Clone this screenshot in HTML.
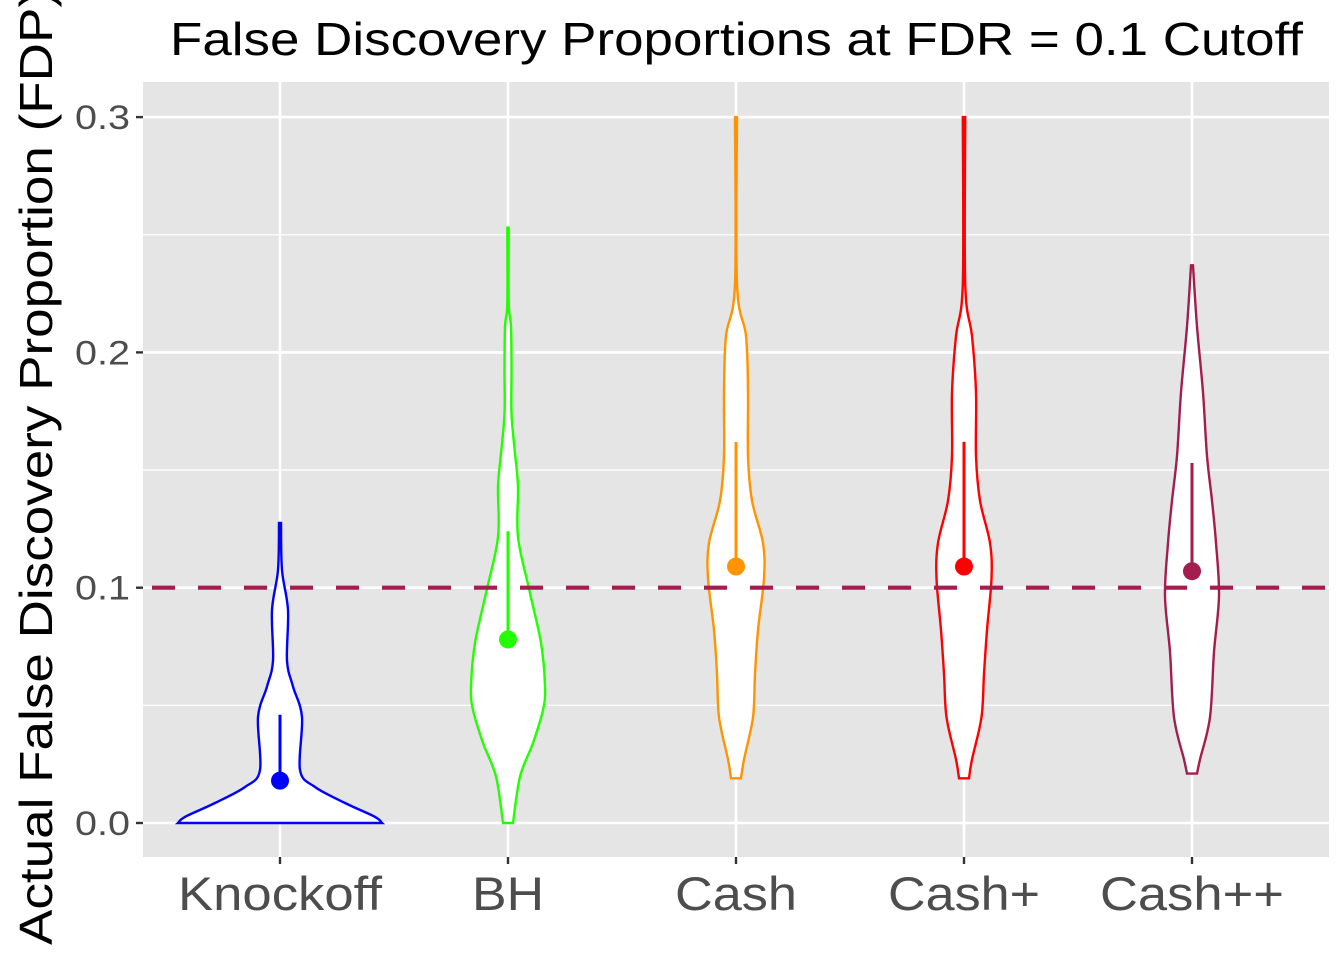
<!DOCTYPE html>
<html><head><meta charset="utf-8"><style>
html,body{margin:0;padding:0;background:#fff;}
svg text{font-family:"Liberation Sans",sans-serif;}
</style></head><body>
<svg id="chart" width="1344" height="960" viewBox="0 0 1344 960" xmlns="http://www.w3.org/2000/svg">
<rect x="0" y="0" width="1344" height="960" fill="#fff"/>
<rect x="143" y="82" width="1186" height="775" fill="#e5e5e5"/>
<g id="grid"></g>
<g id="violins"></g>
<g id="axes"></g>
<text x="170" y="55" font-size="46" textLength="1133" lengthAdjust="spacingAndGlyphs" fill="#000">False Discovery Proportions at FDR = 0.1 Cutoff</text>
<text transform="translate(52,945) rotate(-90)" font-size="46" textLength="955" lengthAdjust="spacingAndGlyphs" fill="#000">Actual False Discovery Proportion (FDP)</text>
</svg>
<script>
const categories = ["Knockoff","BH","Cash","Cash+","Cash++"];
const colors = ["#0000ff","#22ff00","#ff9400","#ff0000","#a31d4f"];
const yTicks = [0,0.1,0.2,0.3];
const yTickLabels = ["0.0","0.1","0.2","0.3"];
const yMinor = [0.05,0.15,0.25];
const cutoff = 0.1;
const points = [0.018,0.078,0.109,0.109,0.107];
const medianTops = [0.046,0.124,0.162,0.162,0.153];
const knockoffProfile = [[0,102],[0.0026,95],[0.0085,65],[0.0153,35],[0.0225,20],[0.045,22],[0.058,13],[0.069,7],[0.0905,8],[0.1075,2],[0.1275,1]];
const bhProfile = [[0,5],[0.0197,12],[0.034,25],[0.048,35],[0.058,37],[0.0765,33],[0.0977,22],[0.1215,10],[0.143,10],[0.157,7],[0.174,3.5],[0.1925,3.5],[0.211,3],[0.221,0.7],[0.253,0.7]];
const cashProfile = [[0.019,5],[0.027,8],[0.045,17],[0.0634,19],[0.082,22],[0.104,28],[0.119,27],[0.137,16],[0.156,12],[0.183,12],[0.207,10],[0.229,1],[0.3,1]];
const cashPlusProfile = [[0.019,5],[0.027,8],[0.045,17.5],[0.0634,20],[0.082,23],[0.104,27.5],[0.119,26],[0.137,16],[0.156,12],[0.183,12],[0.207,8],[0.229,1.2],[0.3,1.2]];
const cashPPProfile = [[0.021,5],[0.027,8],[0.045,18],[0.0727,22],[0.0965,27],[0.119,24],[0.137,20],[0.156,15],[0.183,11],[0.211,5],[0.237,1]];
const profiles = [knockoffProfile,bhProfile,cashProfile,cashPlusProfile,cashPPProfile];
const labelWidths = [204,72,122,152,184];

const NS="http://www.w3.org/2000/svg";
const x0=280, dx=228;
const xScale = i => x0 + i*dx;
const yScale = v => 823 - v*2353;
function mk(tag, attrs, parent){const e=document.createElementNS(NS,tag);for(const k in attrs)e.setAttribute(k,attrs[k]);parent.appendChild(e);return e;}
const grid=document.getElementById('grid'), vg=document.getElementById('violins'), ax=document.getElementById('axes');
yMinor.forEach(v=>{const l=mk('line',{x1:143,x2:1329,y1:yScale(v),y2:yScale(v),stroke:'#fff','stroke-width':1.3},grid);

});
yTicks.forEach((v,i)=>{const l=mk('line',{x1:143,x2:1329,y1:yScale(v),y2:yScale(v),stroke:'#fff','stroke-width':2.6},grid);


const t=mk('line',{x1:136,x2:143,y1:yScale(v),y2:yScale(v),stroke:'#333','stroke-width':2.4},ax);


const tx=mk('text',{x:75,y:yScale(v)+12,'font-size':34,textLength:55,lengthAdjust:'spacingAndGlyphs',fill:'#4d4d4d'},ax);tx.textContent=yTickLabels[i];

});
categories.forEach((c,i)=>{const x=xScale(i);
const l=mk('line',{x1:x,x2:x,y1:82,y2:857,stroke:'#fff','stroke-width':2.6},grid);


const t=mk('line',{x1:x,x2:x,y1:857,y2:864,stroke:'#333','stroke-width':2.4},ax);


const tx=mk('text',{x:x-labelWidths[i]/2,y:910,'font-size':47,textLength:labelWidths[i],lengthAdjust:'spacingAndGlyphs',fill:'#4d4d4d'},ax);tx.textContent=c;

});
function smooth(pts){let d='';for(let i=0;i<pts.length-1;i++){const p0=pts[Math.max(0,i-1)],p1=pts[i],p2=pts[i+1],p3=pts[Math.min(pts.length-1,i+2)];
const c1=[p1[0]+(p2[0]-p0[0])/6,p1[1]+(p2[1]-p0[1])/6],c2=[p2[0]-(p3[0]-p1[0])/6,p2[1]-(p3[1]-p1[1])/6];
d+=` C${c1[0]},${c1[1]} ${c2[0]},${c2[1]} ${p2[0]},${p2[1]}`;}return d;}
profiles.forEach((prof,i)=>{const cx=xScale(i);
const right=prof.map(p=>[cx+p[1],yScale(p[0])]);
const left=prof.slice().reverse().map(p=>[cx-p[1],yScale(p[0])]);
let d=`M${right[0][0]},${right[0][1]}`+smooth(right)+` L${left[0][0]},${left[0][1]}`+smooth(left)+' Z';
const v=mk('path',{d:d,fill:'#fff',stroke:colors[i],'stroke-width':2.4},vg);

});
const dl=mk('line',{x1:152,x2:1329,y1:yScale(cutoff),y2:yScale(cutoff),stroke:'#a31d4f','stroke-width':4.2,'stroke-dasharray':'23 23'},vg);


categories.forEach((c,i)=>{const cx=xScale(i);
const m=mk('line',{x1:cx,x2:cx,y1:yScale(medianTops[i]),y2:yScale(points[i]),stroke:colors[i],'stroke-width':3},vg);


const p=mk('circle',{cx:cx,cy:yScale(points[i]),r:9,fill:colors[i]},vg);

});
</script>
</body></html>
